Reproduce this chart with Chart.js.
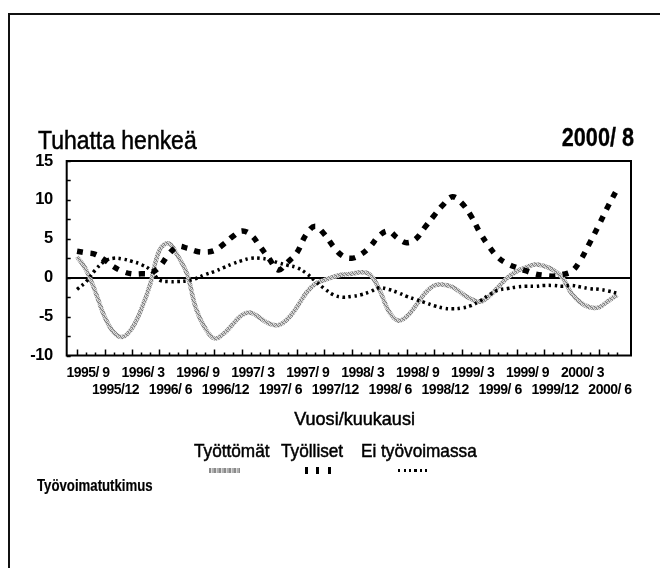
<!DOCTYPE html>
<html><head><meta charset="utf-8">
<script src="https://cdn.jsdelivr.net/npm/chart.js@4.4.1/dist/chart.umd.min.js"></script>
<style>
html,body{margin:0;padding:0;background:#fff;width:660px;height:568px;overflow:hidden;}
body{position:relative;font-family:'Liberation Sans',Arial,sans-serif;color:#000;}
#frame{position:absolute;left:8px;top:13px;width:720px;height:640px;border-left:2px solid #111;border-top:2px solid #111;}
canvas{position:absolute;left:0;top:0;}
.t{position:absolute;white-space:nowrap;-webkit-text-stroke:0.5px #000;}
.sym{position:absolute;}
</style></head><body>
<div id="frame"></div>
<canvas id="c" width="660" height="568"></canvas>
<div class="t" style="left:38px;top:125px;font-size:25.5px;line-height:30px;transform:scaleX(0.9);transform-origin:left center;">Tuhatta henkeä</div>
<div class="t" style="right:26px;top:122px;font-size:25.5px;line-height:30px;font-weight:bold;-webkit-text-stroke:0.3px #000;transform:scaleX(0.85);transform-origin:right center;">2000/ 8</div>
<div class="t" style="left:255px;width:200px;text-align:center;top:408px;font-size:19px;line-height:22px;"><span style="display:inline-block;transform:scaleX(0.95);">Vuosi/kuukausi</span></div>
<div class="t" style="left:194px;top:440px;font-size:18.5px;line-height:22px;transform:scaleX(0.93);transform-origin:left center;">Työttömät</div>
<div class="t" style="left:281px;top:440px;font-size:18.5px;line-height:22px;transform:scaleX(0.93);transform-origin:left center;">Työlliset</div>
<div class="t" style="left:361px;top:440px;font-size:18.5px;line-height:22px;transform:scaleX(0.93);transform-origin:left center;">Ei työvoimassa</div>
<div class="t" style="left:37px;top:475px;font-size:16.5px;line-height:20px;font-weight:bold;-webkit-text-stroke:0.2px #000;transform:scaleX(0.8);transform-origin:left center;">Työvoimatutkimus</div>
<div class="sym" style="left:209px;top:468px;width:31px;height:5px;background:repeating-linear-gradient(90deg,#8a8a8a 0 2px,#dcdcdc 2px 3px,#b0b0b0 3px 5px);"></div>
<div class="sym" style="left:305px;top:467px;width:3px;height:7px;background:#000;"></div>
<div class="sym" style="left:316px;top:467px;width:3px;height:7px;background:#000;"></div>
<div class="sym" style="left:328px;top:467px;width:3px;height:7px;background:#000;"></div>
<div class="sym" style="left:398px;top:469px;width:31px;height:3px;background:repeating-linear-gradient(90deg,#000 0 2px,transparent 2px 5.5px);"></div>
<script>
const months = ['1995/ 9','1995/10','1995/11','1995/12','1996/ 1','1996/ 2','1996/ 3','1996/ 4','1996/ 5','1996/ 6','1996/ 7','1996/ 8',
'1996/ 9','1996/10','1996/11','1996/12','1997/ 1','1997/ 2','1997/ 3','1997/ 4','1997/ 5','1997/ 6','1997/ 7','1997/ 8',
'1997/ 9','1997/10','1997/11','1997/12','1998/ 1','1998/ 2','1998/ 3','1998/ 4','1998/ 5','1998/ 6','1998/ 7','1998/ 8',
'1998/ 9','1998/10','1998/11','1998/12','1999/ 1','1999/ 2','1999/ 3','1999/ 4','1999/ 5','1999/ 6','1999/ 7','1999/ 8',
'1999/ 9','1999/10','1999/11','1999/12','2000/ 1','2000/ 2','2000/ 3','2000/ 4','2000/ 5','2000/ 6','2000/ 7','2000/ 8'];
const tyottomat = [2.7,1.0,-1.8,-5.0,-7.0,-7.6,-6.5,-4.1,-0.8,3.5,4.4,2.8,
0.5,-4.0,-6.5,-7.8,-7.2,-6.0,-4.8,-4.5,-5.2,-5.9,-6.1,-5.3,
-3.8,-2.0,-0.8,-0.3,0.1,0.4,0.5,0.7,0.4,-1.5,-4.2,-5.5,
-5.0,-3.6,-2.0,-1.0,-0.9,-1.2,-2.0,-2.7,-3.1,-2.4,-1.2,0.0,
0.8,1.3,1.7,1.5,1.0,0.0,-2.0,-3.2,-3.8,-3.8,-3.0,-2.2];
const tyolliset = [3.4,3.2,3.0,2.3,1.4,0.8,0.5,0.5,0.6,1.4,3.0,4.0,
3.8,3.4,3.3,3.5,4.3,5.3,6.0,5.5,4.0,2.4,1.0,2.0,
3.2,5.5,6.6,5.6,4.0,2.8,2.5,3.0,4.0,5.4,6.0,5.1,
4.5,5.0,6.5,8.0,9.4,10.4,9.6,8.0,5.8,4.0,2.6,1.8,
1.3,0.9,0.5,0.3,0.2,0.4,0.8,2.3,4.5,6.8,9.2,11.4];
const eiTyovoimassa = [-1.5,-0.5,1.0,2.1,2.5,2.4,2.1,1.7,1.0,-0.3,-0.5,-0.5,
-0.4,-0.1,0.4,0.8,1.3,1.8,2.2,2.5,2.5,2.3,1.9,1.6,
1.3,0.6,-0.4,-1.4,-2.2,-2.5,-2.4,-2.2,-1.8,-1.3,-1.5,-1.9,
-2.4,-2.8,-3.2,-3.6,-3.9,-4.0,-3.9,-3.6,-3.0,-2.2,-1.6,-1.4,
-1.2,-1.1,-1.1,-1.0,-1.0,-1.1,-1.0,-1.2,-1.4,-1.5,-1.7,-2.0];
const yTicks = [-10,-5,0,5,10,15];

Chart.defaults.font.family = "'Liberation Sans', Arial, sans-serif";
Chart.defaults.color = '#000';

function makePattern(ctx){
  const c=document.createElement('canvas'); c.width=4; c.height=4;
  const g=c.getContext('2d');
  const cells=['#7a7a7a','#d4d4d4','#a4a4a4','#e6e6e6','#bcbcbc','#858585','#dcdcdc','#989898',
               '#dadada','#acacac','#767676','#cccccc','#9c9c9c','#e0e0e0','#b4b4b4','#828282'];
  cells.forEach((col,k)=>{g.fillStyle=col; g.fillRect(k%4,Math.floor(k/4),1,1);});
  return ctx.createPattern(c,'repeat');
}
const cv = document.getElementById('c');
const ctx = cv.getContext('2d');
const pts = arr => arr.map((v,i)=>({x:i,y:v}));

const framePlugin = {
  id:'frame',
  beforeDraw(chart){ chart.ctx.letterSpacing='-0.5px'; },
  afterDraw(chart){
    const {ctx, chartArea:a, scales} = chart;
    ctx.save();
    ctx.strokeStyle='#000';
    ctx.lineWidth=1.5;
    ctx.beginPath();
    for(let i=0;i<months.length;i++){
      const x=Math.round(scales.x.getPixelForValue(i))+0.5;
      const len = i%3===0 ? 6 : 3;
      ctx.moveTo(x,a.bottom); ctx.lineTo(x,a.bottom-len);
    }
    for(let v=-10; v<=15; v+=2.5){
      const y=Math.round(scales.y.getPixelForValue(v))+0.5;
      ctx.moveTo(a.left,y); ctx.lineTo(a.left+4,y);
    }
    ctx.stroke();
    ctx.lineWidth=2;
    ctx.strokeRect(a.left,a.top,a.right-a.left,a.bottom-a.top);
    ctx.restore();
  }
};

new Chart(ctx,{
  type:'line',
  data:{datasets:[
    {label:'Työttömät', data:pts(tyottomat), borderColor:makePattern(ctx), borderWidth:4.5, tension:0.4, pointRadius:0, order:2, fill:false},
    {label:'Työlliset', data:pts(tyolliset), borderColor:'#000', borderWidth:5.5, borderDash:[6,7.5], borderCapStyle:'butt', tension:0.4, pointRadius:0, order:0, fill:false},
    {label:'Ei työvoimassa', data:pts(eiTyovoimassa), borderColor:'#000', borderWidth:3.5, borderDash:[2.5,3.5], borderCapStyle:'butt', tension:0.4, pointRadius:0, order:1, fill:false}
  ]},
  options:{
    responsive:false, animation:false, events:[],
    layout:{padding:{left:0,top:161,right:29,bottom:172.5}},
    plugins:{legend:{display:false}, tooltip:{enabled:false}},
    scales:{
      x:{type:'linear', min:-1.13, max:60.5,
        afterFit(s){ s.height=40; },
        grid:{display:false, drawTicks:false}, border:{display:false},
        ticks:{stepSize:1, includeBounds:false, autoSkip:false, maxRotation:0, minRotation:0,
          labelOffset:11, padding:9, font:{size:14, weight:'bold', lineHeight:1.22},
          callback(v){ const i=Math.round(v); if(i<0||i>=months.length) return ''; if(i%6===0) return [months[i],'']; if(i%6===3) return ['',months[i]]; return ''; }}
      },
      y:{min:-10, max:15,
        afterFit(s){ s.width=66.7; },
        afterBuildTicks(s){ s.ticks = yTicks.map(v=>({value:v})); },
        grid:{drawTicks:false, color:c=>(c.tick && c.tick.value===0)?'#000':'rgba(0,0,0,0)', lineWidth:2},
        border:{display:false},
        ticks:{padding:14, font:{size:16.5, weight:'bold'}}
      }
    }
  },
  plugins:[framePlugin]
});
</script>
</body></html>
